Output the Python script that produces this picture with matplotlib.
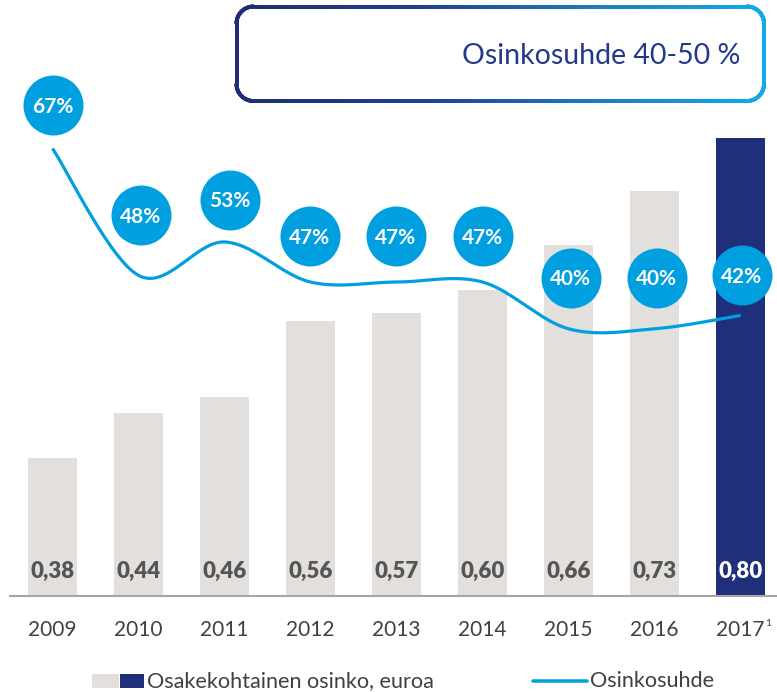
import numpy as np
import matplotlib
matplotlib.use("Agg")
import matplotlib.pyplot as plt
from matplotlib.transforms import offset_copy
from matplotlib.collections import LineCollection
from matplotlib.colors import LinearSegmentedColormap
from matplotlib.patches import Rectangle
from matplotlib.lines import Line2D

# ---------------- data ----------------
years = ["2009", "2010", "2011", "2012", "2013", "2014", "2015", "2016", "2017"]
dividend = [0.38, 0.44, 0.46, 0.56, 0.57, 0.60, 0.66, 0.73, 0.80]
dividend_labels = ["0,38", "0,44", "0,46", "0,56", "0,57", "0,60", "0,66", "0,73", "0,80"]
payout = [67, 48, 53, 47, 47, 47, 40, 40, 42]
payout_labels = ["67%", "48%", "53%", "47%", "47%", "47%", "40%", "40%", "42%"]
title_text = "Osinkosuhde 40-50 %"
legend_bar = "Osakekohtainen osinko, euroa"
legend_line = "Osinkosuhde"
footnote_mark = "1"

# ---------------- style ----------------
W, H = 777, 692
GRAY = "#E2DFDC"
NAVY = "#1F2F7B"
BLUE = "#009FDF"
TXT = "#404040"
VAL = "#555555"
FONT = "Lato"
plt.rcParams["font.family"] = [FONT, "DejaVu Sans"]

# label circle offsets (pixels) relative to line points
label_dy = [43, 60, 42, 46, 46, 46, 51, 51, 40]
label_dx = [0, 2, 5, -1, -1, 0, 2, 2, 1]

PT = 72 / 100.0  # points per pixel at dpi 100

fig = plt.figure(figsize=(W / 100, H / 100), dpi=100)

# main axes: baseline at y=596 px from top, slots 86 px wide
ax = fig.add_axes([9.5 / W, (H - 596) / H, 774 / W, 596 / H])
x = np.arange(len(years))
colors = [GRAY] * (len(years) - 1) + [NAVY]
ax.bar(x, dividend, width=49 / 86, color=colors, bottom=0, zorder=1)
ax.set_xlim(-0.5, len(years) - 0.5)
ax.set_ylim(0.2, 0.2 + 596 / 764)
for s in ["top", "left", "right"]:
    ax.spines[s].set_visible(False)
ax.spines["bottom"].set_color("#A6A6A6")
ax.spines["bottom"].set_linewidth(1.5)
ax.spines["bottom"].set_zorder(3)
ax.set_yticks([])
ax.set_xticks([])

# bar value labels
for i, lab in enumerate(dividend_labels):
    c = "white" if i == len(years) - 1 else VAL
    ax.annotate(lab, xy=(i, 0), xycoords=("data", "axes fraction"),
                xytext=(0, 18 * PT), textcoords="offset points",
                ha="center", va="baseline", fontsize=16, fontweight="heavy",
                color=c, zorder=4)

# year labels
for i, yr in enumerate(years):
    ax.annotate(yr, xy=(i, 0), xycoords=("data", "axes fraction"),
                xytext=(0, -40 * PT), textcoords="offset points",
                ha="center", va="baseline", fontsize=15, color=TXT,
                annotation_clip=False)
ax.annotate(footnote_mark, xy=(len(years) - 1, 0), xycoords=("data", "axes fraction"),
            xytext=(28 * PT, -30 * PT), textcoords="offset points",
            ha="center", va="baseline", fontsize=7.5, color=TXT,
            annotation_clip=False)

# secondary axis for payout ratio
ax2 = ax.twinx()
ax2.set_ylim(0, 596 / 6.68)
ax2.set_xlim(ax.get_xlim())
ax2.axis("off")


def smooth(xs, ys, n=40):
    P = np.column_stack([xs, ys]).astype(float)
    out = []
    for i in range(len(P) - 1):
        p0 = P[i - 1] if i > 0 else P[i]
        p3 = P[i + 2] if i + 2 < len(P) else P[i + 1]
        p1, p2 = P[i], P[i + 1]
        c1 = p1 + (p2 - p0) / 6
        c2 = p2 - (p3 - p1) / 6
        t = np.linspace(0, 1, n)[:, None]
        seg = (1 - t) ** 3 * p1 + 3 * (1 - t) ** 2 * t * c1 + 3 * (1 - t) * t ** 2 * c2 + t ** 3 * p2
        out.append(seg if i == 0 else seg[1:])
    return np.vstack(out)


sm = smooth(x, payout)
ax2.plot(sm[:, 0], sm[:, 1], color=BLUE, lw=3.2 * PT, solid_capstyle="butt", zorder=2)

for i, (v, lab) in enumerate(zip(payout, payout_labels)):
    tr = offset_copy(ax2.transData, fig=fig, x=label_dx[i] * PT, y=label_dy[i] * PT, units="points")
    ax2.plot([i], [v], "o", ms=60 * PT, color=BLUE, mec="none", transform=tr, zorder=5, clip_on=False)
    tr2 = offset_copy(ax2.transData, fig=fig, x=label_dx[i] * PT, y=(label_dy[i] - 7.5) * PT, units="points")
    ax2.text(i, v, lab, transform=tr2, ha="center", va="baseline", fontsize=15,
             fontweight="bold", color="white", zorder=6, clip_on=False)

# ---------------- gradient rounded box ----------------
def rounded_rect(x0, y0, x1, y1, r, n=30):
    pts = []
    arcs = [((x1 - r, y0 + r), -90, 0), ((x1 - r, y1 - r), 0, 90),
            ((x0 + r, y1 - r), 90, 180), ((x0 + r, y0 + r), 180, 270)]
    for (cx, cy), a0, a1 in arcs:
        a = np.radians(np.linspace(a0, a1, n))
        pts.append(np.column_stack([cx + r * np.cos(a), cy + r * np.sin(a)]))
    pts.append(pts[0][:1])
    return np.vstack(pts)


bx0, by0, bx1, by1 = 236.5, 6.5, 764, 101
pp = rounded_rect(bx0, by0, bx1, by1, 17)
dense = []
for a, b in zip(pp[:-1], pp[1:]):
    k = max(2, int(np.hypot(*(b - a)) / 2))
    dense.append(np.linspace(a, b, k, endpoint=False))
dense.append(pp[-1:])
dense = np.vstack(dense)
fx = dense[:, 0] / W
fy = 1 - dense[:, 1] / H
segs = np.stack([np.column_stack([fx[:-1], fy[:-1]]), np.column_stack([fx[1:], fy[1:]])], axis=1)
cmap = LinearSegmentedColormap.from_list("g", [(0, "#1E2C78"), (0.35, "#213F8E"), (0.7, "#1C7FC4"), (1, "#10ABE8")])
cval = ((dense[:-1, 0] + dense[1:, 0]) / 2 - bx0) / (bx1 - bx0)
lc = LineCollection(segs, colors=cmap(np.clip(cval, 0, 1)), linewidths=3.0 * PT * 1.3,
                    transform=fig.transFigure, capstyle="round", joinstyle="round")
fig.add_artist(lc)
fig.text(740 / W, 1 - 64 / H, title_text, ha="right", va="baseline", fontsize=20.5, color="#24388A")

# ---------------- legend ----------------
fig.add_artist(Rectangle((92 / W, 1 - 688 / H), 27 / W, 14 / H, transform=fig.transFigure,
                         facecolor=GRAY, edgecolor="none"))
fig.add_artist(Rectangle((120 / W, 1 - 688 / H), 24 / W, 14 / H, transform=fig.transFigure,
                         facecolor=NAVY, edgecolor="none"))
fig.text(147 / W, 1 - 687 / H, legend_bar, ha="left", va="baseline", fontsize=15.6, color=TXT)
fig.add_artist(Line2D([533 / W, 587 / W], [1 - 681 / H, 1 - 681 / H], transform=fig.transFigure,
                      color=BLUE, lw=3.5 * PT, solid_capstyle="round"))
fig.text(590 / W, 1 - 687 / H, legend_line, ha="left", va="baseline", fontsize=15.6, color=TXT)

fig.savefig("out.png", dpi=100)
